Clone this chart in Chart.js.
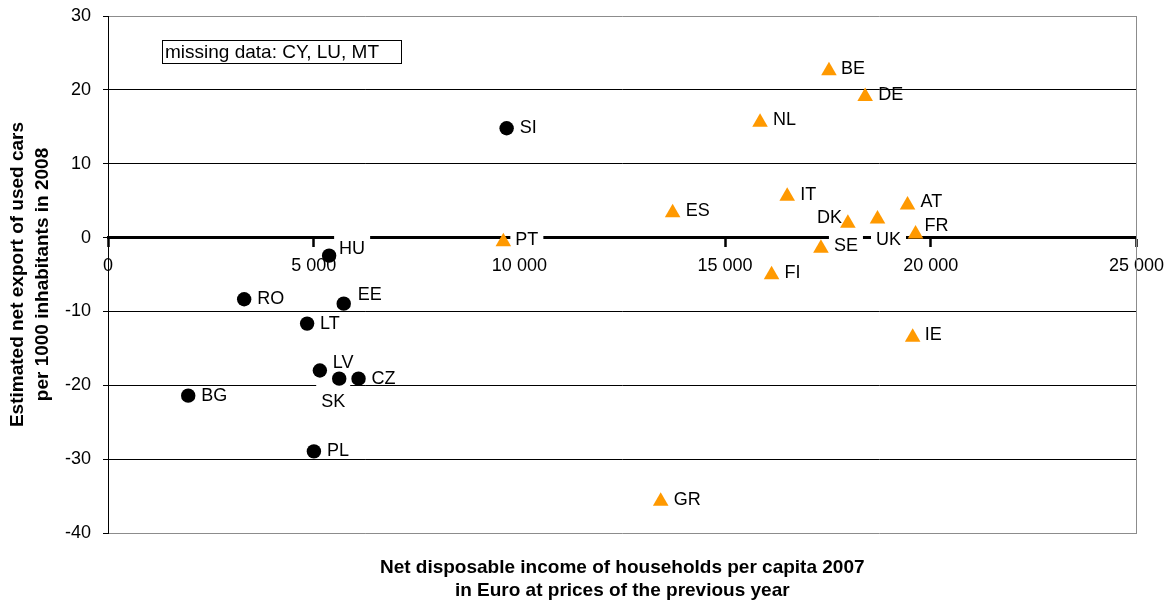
<!DOCTYPE html>
<html>
<head>
<meta charset="utf-8">
<script src="https://cdn.jsdelivr.net/npm/chart.js@4.4.1/dist/chart.umd.min.js"></script>
<style>
html,body{margin:0;padding:0;background:#fff;}
canvas{display:block;}
</style>
</head>
<body>
<canvas id="c" width="1174" height="605"></canvas>
<script>
// ---- data ----
const blackCodes  = ['SI','HU','RO','EE','LT','LV','SK','CZ','BG','PL'];
const blackIncome = [9690, 5375, 3310, 5730, 4840, 5150, 5620, 6090, 1950, 5005];
const blackExport = [14.8, -2.45, -8.35, -8.95, -11.65, -18.0, -19.1, -19.1, -21.4, -28.95];

const orangeCodes  = ['BE','DE','NL','IT','ES','AT','DK','UK','FR','PT','SE','FI','IE','GR'];
const orangeIncome = [17525, 18405, 15850, 16510, 13725, 19435, 17985, 18705, 19630, 9610, 17330, 16130, 19560, 13435];
const orangeExport = [22.6, 19.1, 15.6, 5.6, 3.35, 4.4, 1.95, 2.5, 0.5, -0.55, -1.45, -5.05, -13.5, -35.7];

const xTickValues = [0, 5000, 10000, 15000, 20000, 25000];
const yTickValues = [30, 20, 10, 0, -10, -20, -30, -40];
const noteText = 'missing data: CY, LU, MT';
const xTitle = ['Net disposable income of households per capita 2007', 'in Euro at prices of the previous year'];
const yTitle = ['Estimated net export of used cars', 'per 1000 inhabitants in 2008'];

// ---- label placement (style only) ----
const labelPlacement = {
  SI:{dx:13,dy:0}, HU:{dx:10,dy:-7,box:[-16,8]}, RO:{dx:13,dy:0}, EE:{dx:14,dy:-9},
  LT:{dx:13,dy:0}, LV:{dx:13,dy:-7}, SK:{dx:-6,dy:23,align:'center',box:[-17,10]},
  CZ:{dx:13,dy:0}, BG:{dx:13,dy:0}, PL:{dx:13,dy:0},
  BE:{dx:12,dy:-2}, DE:{dx:13,dy:-1}, NL:{dx:13,dy:-2}, IT:{dx:13,dy:-1}, ES:{dx:13,dy:-2},
  AT:{dx:13,dy:-3}, DK:{dx:-6,dy:-5,align:'right'}, UK:{dx:11,dy:21,align:'center',box:[-10,10]},
  FR:{dx:9,dy:-8}, PT:{dx:12,dy:-2,box:[-10,10]}, SE:{dx:13,dy:-2,box:[-12,10]},
  FI:{dx:13,dy:-2}, IE:{dx:12,dy:-2}, GR:{dx:13,dy:-1}
};

const FONT = '"Liberation Sans", Arial, sans-serif';

function toPoints(xs, ys) { return xs.map((x, i) => ({x: x, y: ys[i]})); }
const codesByDataset = [blackCodes, orangeCodes];

const pointLabels = {
  id: 'pointLabels',
  beforeDatasetsDraw(chart) {
    const ctx = chart.ctx;
    ctx.save();
    ctx.font = '18px ' + FONT;
    ctx.textBaseline = 'middle';
    ctx.textAlign = 'left';
    chart.data.datasets.forEach((ds, di) => {
      const meta = chart.getDatasetMeta(di);
      meta.data.forEach((el, i) => {
        const code = codesByDataset[di][i];
        const p = Object.assign({dx: 13, dy: 0, align: 'left'}, labelPlacement[code] || {});
        const x = el.x + p.dx, y = el.y + p.dy;
        const w = ctx.measureText(code).width;
        const left = p.align === 'left' ? x : (p.align === 'right' ? x - w : x - w / 2);
        if (p.box) {
          ctx.fillStyle = '#ffffff';
          ctx.fillRect(left - 5, y + p.box[0], w + 10, p.box[1] - p.box[0]);
        }
        ctx.fillStyle = '#000000';
        ctx.fillText(code, left, y);
      });
    });
    // note box
    const a = chart.chartArea;
    const bx = a.left + 54, by = a.top + 24, bw = 239, bh = 23;
    ctx.fillStyle = '#ffffff';
    ctx.fillRect(bx, by, bw, bh);
    ctx.strokeStyle = '#000000';
    ctx.lineWidth = 1;
    ctx.strokeRect(bx + 0.5, by + 0.5, bw, bh);
    ctx.font = '19px ' + FONT;
    ctx.fillStyle = '#000000';
    ctx.fillText(noteText, bx + 3, by + bh / 2 + 1);
    ctx.restore();
  }
};

new Chart(document.getElementById('c'), {
  type: 'scatter',
  data: {
    datasets: [
      {
        label: 'new member states',
        data: toPoints(blackIncome, blackExport),
        pointStyle: 'circle',
        pointRadius: 7.2,
        pointHoverRadius: 7.2,
        pointBorderWidth: 0,
        backgroundColor: '#000000',
        borderColor: '#000000'
      },
      {
        label: 'old member states',
        data: toPoints(orangeIncome, orangeExport),
        pointStyle: 'triangle',
        pointRadius: 9,
        pointHoverRadius: 9,
        pointBorderWidth: 0,
        backgroundColor: '#FF9900',
        borderColor: '#FF9900'
      }
    ]
  },
  options: {
    responsive: false,
    animation: false,
    devicePixelRatio: 1,
    layout: {padding: {top: 16, left: 0, right: 0, bottom: 0}},
    plugins: {legend: {display: false}, tooltip: {enabled: false}},
    scales: {
      x: {
        type: 'linear',
        position: {y: 0},
        min: 0, max: 25000,
        afterBuildTicks: (s) => { s.ticks = xTickValues.map(v => ({value: v})); },
        ticks: {
          color: '#000',
          font: {family: FONT, size: 18},
          padding: 10,
          maxRotation: 0,
          autoSkip: false,
          callback: (v) => String(v).replace(/\B(?=(\d{3})+(?!\d))/g, ' ')
        },
        grid: {display: true, drawOnChartArea: false, drawTicks: true, tickLength: 8, tickWidth: 2.5, tickColor: '#000'},
        border: {display: true, color: '#000', width: 3}
      },
      x2: {
        type: 'linear',
        position: 'bottom',
        display: true,
        min: 0, max: 25000,
        ticks: {display: false},
        grid: {display: false, drawTicks: false},
        border: {display: false},
        title: {
          display: true,
          text: xTitle,
          color: '#000',
          font: {family: FONT, size: 19, weight: 'bold', lineHeight: 23 / 19},
          padding: {top: 0, bottom: 3}
        },
        afterFit: (s) => { s.height = 72; }
      },
      y: {
        type: 'linear',
        position: 'left',
        min: -40, max: 30,
        afterBuildTicks: (s) => { s.ticks = yTickValues.map(v => ({value: v})); },
        ticks: {color: '#000', font: {family: FONT, size: 18}, padding: 12},
        grid: {
          color: (c) => (c.tick && (c.tick.value === 30 || c.tick.value === -40)) ? '#8c8c8c' : '#000000',
          lineWidth: 1,
          tickLength: 5,
          tickColor: '#000'
        },
        border: {display: true, color: '#000', width: 1},
        title: {
          display: true,
          text: yTitle,
          color: '#000',
          font: {family: FONT, size: 19, weight: 'bold', lineHeight: 25 / 19},
          padding: {top: 5, bottom: 0}
        },
        afterFit: (s) => { s.width = 108; s.paddingTop = 11; s.paddingBottom = 11; }
      },
      y2: {
        type: 'linear',
        position: 'right',
        display: true,
        min: -40, max: 30,
        ticks: {display: false},
        grid: {display: false, drawTicks: false},
        border: {display: true, color: '#8c8c8c', width: 1},
        afterFit: (s) => { s.width = 37; s.paddingTop = 0; s.paddingBottom = 0; }
      }
    }
  },
  plugins: [pointLabels]
});
</script>
</body>
</html>
